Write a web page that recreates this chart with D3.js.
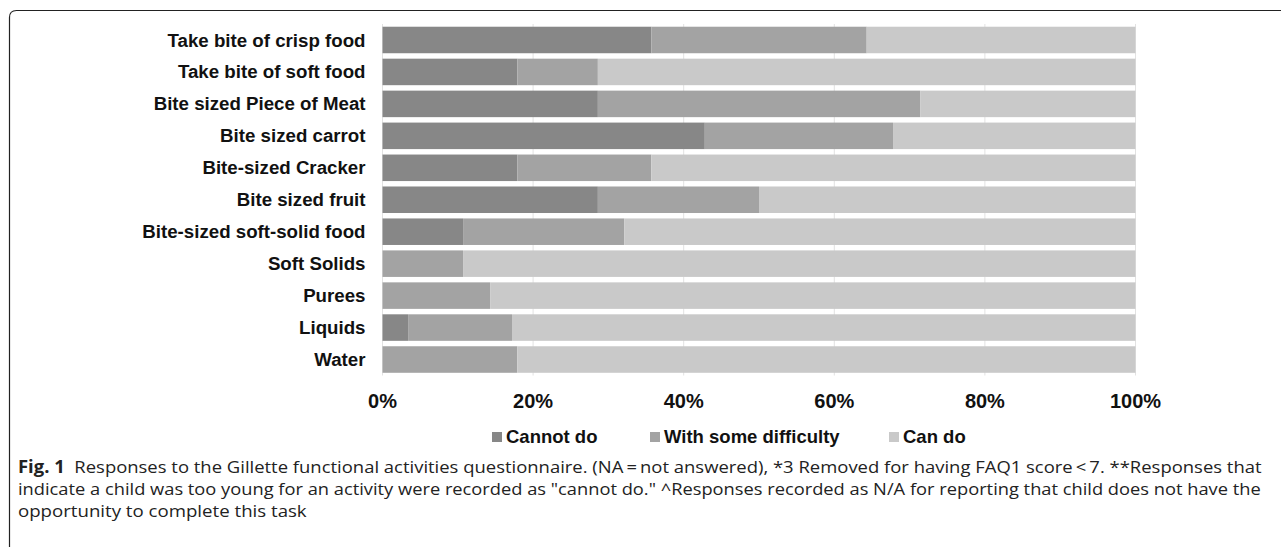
<!DOCTYPE html>
<html>
<head>
<meta charset="utf-8">
<script src="https://cdn.jsdelivr.net/npm/d3@7"></script>
<style>
  body { margin: 0; background: #fff; }
  svg { display: block; }
  .cat-label, .tick-label, .legend-label { font-family: "Liberation Sans", Arial, sans-serif; font-weight: bold; fill: #111; }
  .caption { font-family: "Open Sans", "Noto Sans", sans-serif; fill: #222; }
</style>
</head>
<body>
<div id="chart"></div>
<script>
const categories = [
  "Take bite of crisp food",
  "Take bite of soft food",
  "Bite sized Piece of Meat",
  "Bite sized carrot",
  "Bite-sized Cracker",
  "Bite sized fruit",
  "Bite-sized soft-solid food",
  "Soft Solids",
  "Purees",
  "Liquids",
  "Water",
];
const cannotDo = [35.7, 17.9, 28.6, 42.8, 17.9, 28.6, 10.7, 0, 0, 3.4, 0];
const withDifficulty = [28.6, 10.7, 42.8, 25.0, 17.8, 21.4, 21.4, 10.7, 14.3, 13.8, 17.9];
const canDo = [35.7, 71.4, 28.6, 32.2, 64.3, 50.0, 67.9, 89.3, 85.7, 82.8, 82.1];
const seriesNames = ["Cannot do", "With some difficulty", "Can do"];
const seriesColors = ["#878787", "#a3a3a3", "#c9c9c9"];
const tickValues = [0, 20, 40, 60, 80, 100];

const captionLines = [
  [["Fig. 1", true], ["  Responses to the Gillette functional activities questionnaire. (NA\u2009=\u2009not answered), *3 Removed for having FAQ1 score\u2009<\u20097. **Responses that", false]],
  [["indicate a child was too young for an activity were recorded as \"cannot do.\" ^Responses recorded as N/A for reporting that child does not have the", false]],
  [["opportunity to complete this task", false]],
];

const width = 1281, height = 550;
const plot = { left: 382.5, right: 1135.5, top: 24, bottom: 375.5 };

const table = categories.map((c, i) => ({
  category: c,
  "Cannot do": cannotDo[i],
  "With some difficulty": withDifficulty[i],
  "Can do": canDo[i],
}));
const stacked = d3.stack().keys(seriesNames)(table);

const x = d3.scaleLinear().domain([0, 100]).range([plot.left, plot.right]);
const y = d3.scaleBand().domain(categories).range([plot.top, plot.bottom]).paddingInner(0.17).paddingOuter(0.085);
const color = d3.scaleOrdinal().domain(seriesNames).range(seriesColors);

const svg = d3.select("#chart").append("svg").attr("width", width).attr("height", height);

// frame: top rule and left rule with rounded corner
const rad = 7;
svg.append("path")
  .attr("d", `M${width},10.5 H${9.5 + rad} Q9.5,10.5 9.5,${10.5 + rad} V547`)
  .attr("fill", "none")
  .attr("stroke", "#222")
  .attr("stroke-width", 1.2);

// gridlines
svg.append("g")
  .selectAll("line")
  .data(tickValues)
  .join("line")
  .attr("x1", (d) => x(d))
  .attr("x2", (d) => x(d))
  .attr("y1", plot.top)
  .attr("y2", plot.bottom)
  .attr("stroke", "#e2e2e2")
  .attr("stroke-width", 1);

// bars
svg.append("g")
  .selectAll("g")
  .data(stacked)
  .join("g")
  .attr("fill", (d) => color(d.key))
  .selectAll("rect")
  .data((d) => d)
  .join("rect")
  .attr("x", (d) => x(d[0]))
  .attr("y", (d) => y(d.data.category))
  .attr("width", (d) => x(d[1]) - x(d[0]))
  .attr("height", y.bandwidth());

// category labels
svg.append("g")
  .selectAll("text")
  .data(categories)
  .join("text")
  .attr("class", "cat-label")
  .attr("x", plot.left - 17)
  .attr("y", (d) => y(d) + y.bandwidth() / 2)
  .attr("dy", "0.35em")
  .attr("text-anchor", "end")
  .attr("font-size", 18.7)
  .text((d) => d);

// x tick labels
svg.append("g")
  .selectAll("text")
  .data(tickValues)
  .join("text")
  .attr("class", "tick-label")
  .attr("x", (d) => x(d))
  .attr("y", 408)
  .attr("text-anchor", "middle")
  .attr("font-size", 20)
  .text((d) => d + "%");

// legend
const legendX = [492, 650, 889];
const legend = svg.append("g")
  .selectAll("g")
  .data(seriesNames)
  .join("g")
  .attr("transform", (d, i) => `translate(${legendX[i]},437)`);
legend.append("rect")
  .attr("x", 0).attr("y", -5)
  .attr("width", 10).attr("height", 10)
  .attr("fill", (d) => color(d));
legend.append("text")
  .attr("class", "legend-label")
  .attr("x", 14)
  .attr("dy", "0.35em")
  .attr("font-size", 18.5)
  .text((d) => d);

// caption, squeezed horizontally to match the condensed original face
const captionTargets = [1244, 1244, 289];
const captionG = svg.append("g");
captionLines.forEach((parts, i) => {
  const t = captionG.append("text")
    .attr("class", "caption")
    .attr("x", 0)
    .attr("y", 0)
    .attr("font-size", 17)
    .style("white-space", "pre");
  parts.forEach(([s, bold]) => {
    t.append("tspan").attr("font-weight", bold ? "bold" : "normal").text(s);
  });
  const sx = captionTargets[i] / t.node().getComputedTextLength();
  t.attr("transform", `translate(18,${473 + i * 22}) scale(${sx},1)`);
});
</script>
</body>
</html>
